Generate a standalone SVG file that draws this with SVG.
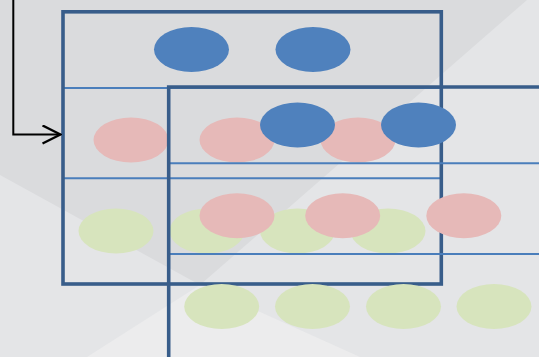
<svg xmlns="http://www.w3.org/2000/svg" width="539" height="357" viewBox="0 0 539 357">
  <defs>
    <style>
      .frame { fill: none; stroke: #385d8a; stroke-width: 3.6; }
      .row { stroke: #4a7ebb; stroke-width: 2; }
      .blue { fill: #4f81bd; }
      .pink { fill: #e6b9b8; }
      .green { fill: #d7e4bd; }
      .conn { fill: none; stroke: #000000; stroke-width: 2; }
    </style>
    <marker id="open-arrow" viewBox="0 0 20 20" refX="19" refY="10" markerWidth="20" markerHeight="20" markerUnits="userSpaceOnUse" orient="auto">
      <path d="M1,1 L19,10 L1,19" fill="none" stroke="#000000" stroke-width="2.4"/>
    </marker>
  </defs>

  <g id="background">
    <rect x="0" y="0" width="539" height="357" fill="#e4e5e7"/>
    <polygon points="0,0 527,0 200,285 0,175" fill="#dadbdd"/>
    <polygon points="200,285 87,357 360,357" fill="#ececed"/>
  </g>

  <g id="table-1">
    <line class="row" x1="63" y1="88" x2="441" y2="88"/>
    <line class="row" x1="63" y1="178.3" x2="441" y2="178.3"/>
    <ellipse class="blue" cx="191.5" cy="49.5" rx="37.5" ry="22.5"/>
    <ellipse class="blue" cx="313" cy="49.5" rx="37.5" ry="22.5"/>
    <ellipse class="pink" cx="131" cy="140" rx="37.5" ry="22.5"/>
    <ellipse class="pink" cx="237" cy="140" rx="37.5" ry="22.5"/>
    <ellipse class="pink" cx="358" cy="140" rx="37.5" ry="22.5"/>
    <ellipse class="green" cx="116" cy="231" rx="37.5" ry="22.5"/>
    <ellipse class="green" cx="207" cy="231" rx="37.5" ry="22.5"/>
    <ellipse class="green" cx="297.5" cy="231" rx="37.5" ry="22.5"/>
    <ellipse class="green" cx="388" cy="231" rx="37.5" ry="22.5"/>
    <rect class="frame" x="63" y="11.8" width="378.3" height="272.2"/>
  </g>

  <g id="table-2">
    <line class="row" x1="169" y1="163.3" x2="539" y2="163.3"/>
    <line class="row" x1="169" y1="254" x2="539" y2="254"/>
    <ellipse class="blue" cx="297.5" cy="125" rx="37.5" ry="22.5"/>
    <ellipse class="blue" cx="418.5" cy="125" rx="37.5" ry="22.5"/>
    <ellipse class="pink" cx="237" cy="215.7" rx="37.5" ry="22.5"/>
    <ellipse class="pink" cx="342.7" cy="215.7" rx="37.5" ry="22.5"/>
    <ellipse class="pink" cx="463.8" cy="215.7" rx="37.5" ry="22.5"/>
    <ellipse class="green" cx="221.7" cy="306.5" rx="37.5" ry="22.5"/>
    <ellipse class="green" cx="312.5" cy="306.5" rx="37.5" ry="22.5"/>
    <ellipse class="green" cx="403.5" cy="306.5" rx="37.5" ry="22.5"/>
    <ellipse class="green" cx="494" cy="306.5" rx="37.5" ry="22.5"/>
    <path class="frame" d="M168.7,362 L168.7,87 L545,87"/>
  </g>

  <g id="connectors">
    <path class="conn" d="M13.3,0 L13.3,134.5 L60.5,134.5" marker-end="url(#open-arrow)"/>
  </g>
</svg>
